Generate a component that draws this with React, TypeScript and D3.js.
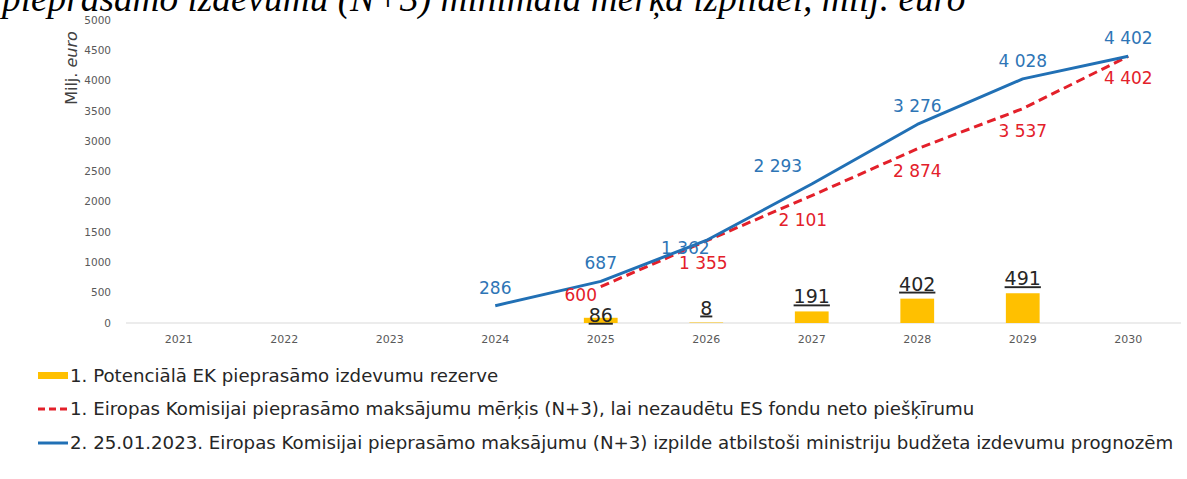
import React from 'react';
import * as d3 from 'd3';

// chart data
const years = ['2021', '2022', '2023', '2024', '2025', '2026', '2027', '2028', '2029', '2030'];
const yTicks = [0, 500, 1000, 1500, 2000, 2500, 3000, 3500, 4000, 4500, 5000];

const reserveYears = ['2025', '2026', '2027', '2028', '2029'];
const reserveValues = [86, 8, 191, 402, 491];

const targetYears = ['2025', '2026', '2027', '2028', '2029', '2030'];
const targetValues = [600, 1355, 2101, 2874, 3537, 4402];

const forecastYears = ['2024', '2025', '2026', '2027', '2028', '2029', '2030'];
const forecastValues = [286, 687, 1362, 2293, 3276, 4028, 4402];

const titleText = 'pieprasāmo izdevumu (N+3) minimālā mērķa izpildei, milj. euro';
const legendLabels = [
  '1. Potenciālā EK pieprasāmo izdevumu rezerve',
  '1. Eiropas Komisijai pieprasāmo maksājumu mērķis (N+3), lai nezaudētu ES fondu neto piešķīrumu',
  '2. 25.01.2023. Eiropas Komisijai pieprasāmo maksājumu (N+3) izpilde atbilstoši ministriju budžeta izdevumu prognozēm',
];

const BLUE = '#2170B5';
const BLUE_TEXT = '#2E75B6';
const RED = '#E3202A';
const YELLOW = '#FFC000';
const FONT = '"DejaVu Sans", Verdana, sans-serif';

// manual label shifts (like hand-placed Excel labels)
const blueNudge: Record<string, [number, number]> = { '2026': [-21, 26], '2027': [-34, 0] };
const redNudge: Record<string, [number, number]> = { '2025': [-20, -14], '2026': [-3, 0], '2027': [-9, 2] };
const barNudge: Record<string, number> = { '2025': 12 };

const fmt = d3.formatLocale({ decimal: ',', thousands: ' ', grouping: [3], currency: ['', ''] }).format(',d');

export default function App() {
  const x = d3.scaleBand().domain(years).range([126, 1181]).paddingInner(0).paddingOuter(0);
  const y = d3.scaleLinear().domain([0, 5000]).range([323, 20]);
  const cx = (yr: string) => (x(yr) as number) + x.bandwidth() / 2;
  const barW = x.bandwidth() * 0.32;

  const line = d3.line<[string, number]>().x((d) => cx(d[0])).y((d) => y(d[1]));
  const targetPts = targetYears.map((yr, i) => [yr, targetValues[i]] as [string, number]);
  const forecastPts = forecastYears.map((yr, i) => [yr, forecastValues[i]] as [string, number]);

  return (
    <svg width={1187} height={479} style={{ position: 'absolute', left: 0, top: 0, background: '#fff' }}>
      <text x={2} y={11} fontFamily='"Liberation Serif", "Times New Roman", serif' fontStyle="italic" fontSize={37.3} fill="#000">
        {titleText}
      </text>

      {/* y axis title */}
      <text transform="translate(77,68) rotate(-90)" textAnchor="middle" fontFamily={FONT} fontSize={16} fill="#404040">
        Milj. <tspan fontStyle="italic">euro</tspan>
      </text>

      {yTicks.map((t) => (
        <text key={t} x={111} y={y(t)} dy="0.35em" textAnchor="end" fontFamily={FONT} fontSize={10.5} fill="#595959">
          {t}
        </text>
      ))}

      <line x1={126} x2={1181} y1={y(0)} y2={y(0)} stroke="#d9d9d9" strokeWidth={1} />

      {years.map((yr) => (
        <text key={yr} x={cx(yr)} y={343} textAnchor="middle" fontFamily={FONT} fontSize={11} fill="#595959">
          {yr}
        </text>
      ))}

      {reserveYears.map((yr, i) => (
        <rect key={yr} x={cx(yr) - barW / 2} y={y(reserveValues[i])} width={barW} height={y(0) - y(reserveValues[i])} fill={YELLOW} />
      ))}
      {reserveYears.map((yr, i) => (
        <text
          key={'bl' + yr}
          x={cx(yr)}
          y={y(reserveValues[i]) - 8 + (barNudge[yr] || 0)}
          textAnchor="middle"
          fontFamily={FONT}
          fontSize={19}
          fill="#262626"
          textDecoration="underline"
        >
          {reserveValues[i]}
        </text>
      ))}

      <path d={line(targetPts) || ''} fill="none" stroke={RED} strokeWidth={3} strokeDasharray="9 5" />
      <path d={line(forecastPts) || ''} fill="none" stroke={BLUE} strokeWidth={3} strokeLinejoin="round" />

      {targetPts.map(([yr, v]) => {
        const [dx, dy] = redNudge[yr] || [0, 0];
        return (
          <text key={'r' + yr} x={cx(yr) + dx} y={y(v) + 22 + dy} dy="0.35em" textAnchor="middle" fontFamily={FONT} fontSize={17} fill={RED}>
            {fmt(v)}
          </text>
        );
      })}
      {forecastPts.map(([yr, v]) => {
        const [dx, dy] = blueNudge[yr] || [0, 0];
        return (
          <text key={'b' + yr} x={cx(yr) + dx} y={y(v) - 18 + dy} dy="0.35em" textAnchor="middle" fontFamily={FONT} fontSize={17} fill={BLUE_TEXT}>
            {fmt(v)}
          </text>
        );
      })}

      {/* legend */}
      <g fontFamily={FONT} fontSize={18.2} fill="#262626">
        <rect x={38} y={372} width={30} height={7} fill={YELLOW} />
        <text x={70} y={382}>{legendLabels[0]}</text>
        <line x1={38} x2={68} y1={409} y2={409} stroke={RED} strokeWidth={3} strokeDasharray="7 4" />
        <text x={70} y={415}>{legendLabels[1]}</text>
        <line x1={38} x2={68} y1={443} y2={443} stroke={BLUE} strokeWidth={3} />
        <text x={70} y={449}>{legendLabels[2]}</text>
      </g>
    </svg>
  );
}
